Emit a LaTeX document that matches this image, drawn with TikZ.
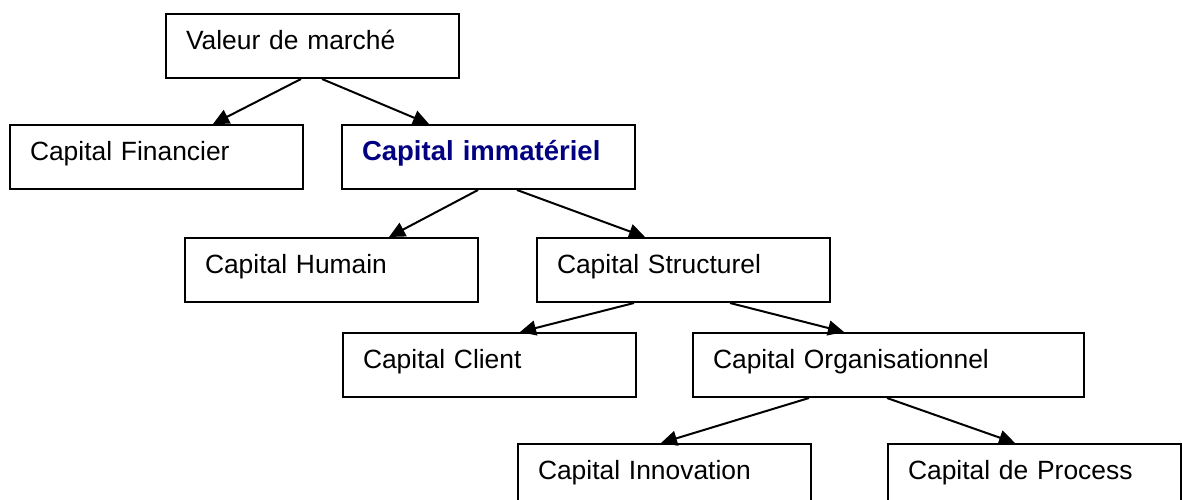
\documentclass[tikz,border=0pt]{standalone}
\usepackage{fontspec}
\setmainfont{Liberation Sans}
\usetikzlibrary{arrows.meta,calc}
\definecolor{navyblue}{RGB}{0,0,128}
\begin{document}
\begin{tikzpicture}[x=1pt,y=-1pt,
  box/.style={draw=black, line width=2pt, anchor=north west,
    minimum width=293pt, minimum height=64pt, inner xsep=20pt, inner ysep=0pt,
    text width=253pt, align=left, text height=14pt, text depth=8pt,
    font=\fontsize{26.4}{30}\selectfont},
  widebox/.style={box, minimum width=391pt, text width=351pt},
  conn/.style={draw=black, line width=2pt, -{Triangle[length=16pt,width=15pt]}}]
\useasboundingbox (0,0) rectangle (1182,499);
\fill[white] (0,0) rectangle (1182,499);
\node[box] (val) at (165,13) {Valeur de marché};
\node[box] (fin) at (9,124) {Capital Financier};
\node[box, font=\fontsize{27.5}{30}\selectfont\bfseries, text=navyblue] (imm) at (341,124) {Capital immatériel};
\node[box] (hum) at (184,237) {Capital Humain};
\node[box] (str) at (536,237) {Capital Structurel};
\node[box] (cli) at (342,332) {Capital Client};
\node[widebox] (org) at (692,332) {Capital Organisationnel};
\node[box] (inn) at (517,443) {Capital Innovation};
\node[box] (pro) at (887,443) {Capital de Process};
\draw[conn] ($(val.south west)+(136,0)$) -- ($(fin.north west)+(204,0)$);
\draw[conn] ($(val.south west)+(157,0)$) -- ($(imm.north west)+(88,0)$);
\draw[conn] ($(imm.south west)+(137,0)$) -- ($(hum.north west)+(205,0)$);
\draw[conn] ($(imm.south west)+(176,0)$) -- ($(str.north west)+(109,0)$);
\draw[conn] ($(str.south west)+(98,0)$) -- ($(cli.north west)+(178,0)$);
\draw[conn] ($(str.south west)+(194,0)$) -- ($(org.north west)+(152,0)$);
\draw[conn] ($(org.south west)+(117,0)$) -- ($(inn.north west)+(144,0)$);
\draw[conn] ($(org.south west)+(195,0)$) -- ($(pro.north west)+(128,0)$);
\end{tikzpicture}
\end{document}
